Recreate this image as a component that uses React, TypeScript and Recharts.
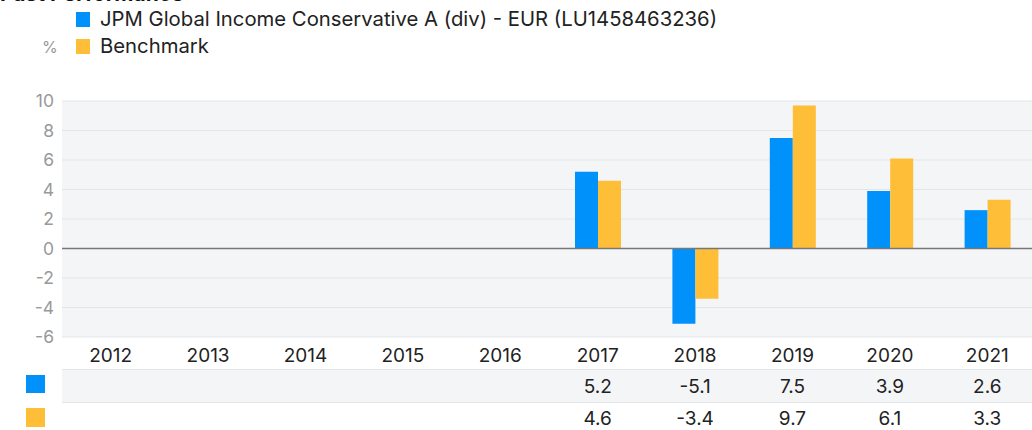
import React from "react";
import {
  BarChart,
  Bar,
  XAxis,
  YAxis,
  CartesianGrid,
  ReferenceLine,
} from "recharts";

const years = ["2012", "2013", "2014", "2015", "2016", "2017", "2018", "2019", "2020", "2021"];
const fund = [null, null, null, null, null, 5.2, -5.1, 7.5, 3.9, 2.6];
const benchmark = [null, null, null, null, null, 4.6, -3.4, 9.7, 6.1, 3.3];
const yTicks = [-6, -4, -2, 0, 2, 4, 6, 8, 10];

const FUND_NAME = "JPM Global Income Conservative A (div) - EUR (LU1458463236)";
const BENCH_NAME = "Benchmark";

const BLUE = "#0092fa";
const YELLOW = "#ffbe38";
const FONT = "Inter, 'Noto Sans', sans-serif";

const data = years.map((year, i) => ({
  year,
  fund: fund[i],
  benchmark: benchmark[i],
}));

const fmt = (v: number | null) => (v === null ? "" : v.toFixed(1));

const YearTick = (props: any) => {
  const { x, payload, index } = props;
  return (
    <g fontFamily={FONT} fontSize={19} fill="#222">
      <text x={x} y={355} textAnchor="middle" dominantBaseline="central">
        {payload.value}
      </text>
      <text x={x} y={386} textAnchor="middle" dominantBaseline="central">
        {fmt(fund[index])}
      </text>
      <text x={x} y={418} textAnchor="middle" dominantBaseline="central">
        {fmt(benchmark[index])}
      </text>
    </g>
  );
};

export default function App() {
  return (
    <div
      style={{
        position: "absolute",
        left: 0,
        top: 0,
        width: 1032,
        height: 430,
        overflow: "hidden",
        fontFamily: FONT,
        background: "#fff",
      }}
    >
      <div style={{ position: "absolute", left: 0, top: -19, fontSize: 21, fontWeight: 700, color: "#111" }}>
        Past Performance
      </div>

      {/* legend */}
      <div style={{ position: "absolute", left: 76, top: 12, width: 14, height: 15, background: BLUE }} />
      <div style={{ position: "absolute", left: 100, top: 7, fontSize: 20.3, color: "#222", lineHeight: "24px" }}>
        {FUND_NAME}
      </div>
      <div style={{ position: "absolute", left: 42, top: 37, fontSize: 16, color: "#999", lineHeight: "20px" }}>%</div>
      <div style={{ position: "absolute", left: 76, top: 39, width: 14, height: 15, background: YELLOW }} />
      <div style={{ position: "absolute", left: 100, top: 34, fontSize: 20.3, color: "#222", lineHeight: "24px" }}>
        {BENCH_NAME}
      </div>

      {/* table rows */}
      <div
        style={{
          position: "absolute",
          left: 62,
          top: 369,
          width: 970,
          height: 32,
          background: "#f4f5f7",
          borderTop: "1px solid #e3e5e8",
          borderBottom: "1px solid #e3e5e8",
        }}
      />
      <div style={{ position: "absolute", left: 26, top: 375, width: 19, height: 18, background: BLUE }} />
      <div style={{ position: "absolute", left: 26, top: 408, width: 19, height: 19, background: YELLOW }} />

      <div style={{ position: "absolute", left: 0, top: 0 }}>
        <BarChart
          width={1036}
          height={430}
          data={data}
          margin={{ top: 101, right: 0, left: 0, bottom: 0 }}
          barGap={0}
        >
          <CartesianGrid vertical={false} stroke="#e3e5e8" fill="#f4f5f7" fillOpacity={1} />
          <XAxis
            dataKey="year"
            height={93}
            axisLine={false}
            tickLine={false}
            interval={0}
            tick={<YearTick />}
          />
          <YAxis
            width={62}
            domain={[-6, 10]}
            ticks={yTicks}
            axisLine={false}
            tickLine={false}
            tick={{ fill: "#999", fontSize: 17.5, fontFamily: FONT }}
          />
          <ReferenceLine y={0} stroke="#777" strokeWidth={1.5} />
          <Bar dataKey="fund" fill={BLUE} barSize={23} isAnimationActive={false} />
          <Bar dataKey="benchmark" fill={YELLOW} barSize={23} isAnimationActive={false} />
        </BarChart>
      </div>
    </div>
  );
}
